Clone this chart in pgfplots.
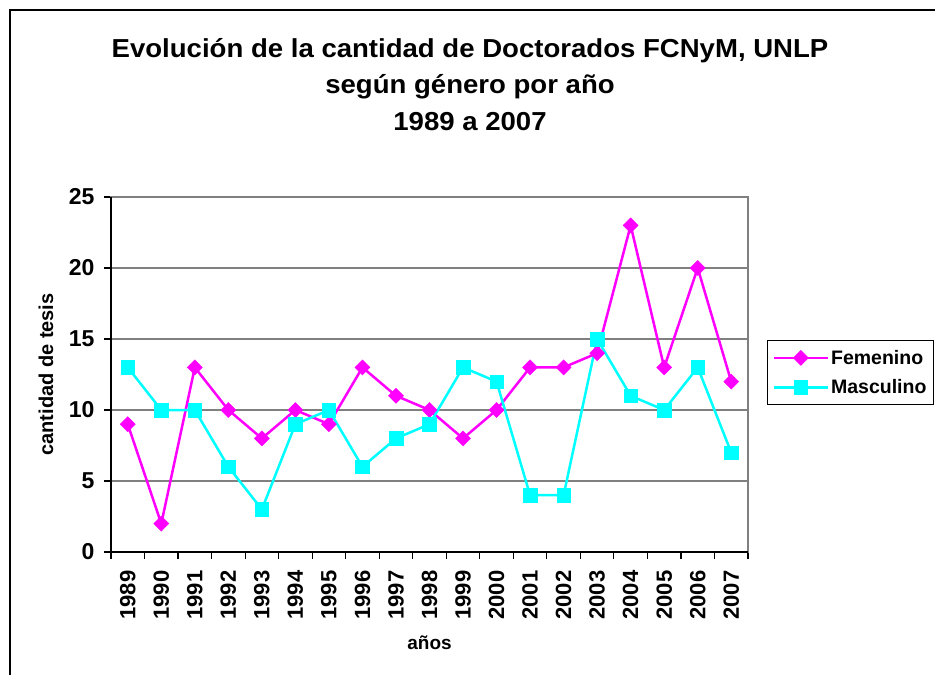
\documentclass[border=0pt]{standalone}
\usepackage{pgfplots}
\pgfplotsset{compat=1.18}
\usepackage{fontspec}
\setmainfont{Liberation Sans}
\definecolor{fem}{RGB}{255,0,255}
\definecolor{mas}{RGB}{0,255,255}
\definecolor{gridgray}{RGB}{128,128,128}
\begin{document}
\begin{tikzpicture}[x=1pt,y=1pt]
\useasboundingbox (0,0) rectangle (935,-675);
\draw[line width=2pt] (10,-675) -- (10,-10);
\draw[line width=2pt] (9,-10) -- (935,-10);
\begin{axis}[
  at={(111pt,-552pt)}, anchor=south west,
  scale only axis, width=637pt, height=355pt,
  xmin=-0.5, xmax=18.5, ymin=0, ymax=25,
  xtick={0,...,18},
  xticklabels={1989,1990,1991,1992,1993,1994,1995,1996,1997,1998,1999,2000,2001,2002,2003,2004,2005,2006,2007},
  minor xtick={-0.5,0.5,...,18.5},
  every major x tick/.append style={draw=none},
  ytick={0,5,...,25},
  tick align=outside, tick pos=lower,
  major tick length=7pt, minor tick length=7pt,
  tick style={black, line width=1.2pt},
  ymajorgrids, major grid style={gridgray, line width=1.5pt},
  axis line style={gridgray, line width=2pt},
  /pgf/number format/assume math mode=true,
  xticklabel style={yshift=-8pt, rotate=90, anchor=east, font=\fontsize{22}{24}\selectfont\bfseries},
  yticklabel style={font=\fontsize{23}{25}\selectfont\bfseries, xshift=-6pt},
  xlabel={años}, ylabel={cantidad de tesis},
  xlabel style={at={(axis description cs:0.5,-0.256)}, anchor=center, font=\fontsize{19}{21}\selectfont\bfseries},
  ylabel style={at={(axis description cs:-0.102,0.5)}, anchor=center, font=\fontsize{20}{22}\selectfont\bfseries},
  title={\scalebox{1.06}[1]{Evolución de la cantidad de Doctorados FCNyM, UNLP}\\\scalebox{1.06}[1]{según género por año}\\\scalebox{1.06}[1]{1989 a 2007}},
  title style={at={(axis description cs:0.5636,1.301)}, anchor=center, align=center, font=\fontsize{26}{36.5}\selectfont\bfseries},
  legend style={at={(axis description cs:1.03,0.597)}, anchor=north west, draw=black, line width=1pt, font=\fontsize{19.5}{22}\selectfont\bfseries, inner xsep=5pt, inner ysep=7.5pt, row sep=10pt, legend cell align=left},
  legend image code/.code={\draw[#1, mark repeat=2, mark phase=2] plot coordinates {(0pt,0pt) (27pt,0pt) (54pt,0pt)};},
  clip=false,
]
\addplot[fem, line width=2.5pt, mark=diamond*, mark size=7.5pt, mark options={solid, fill=fem, draw=fem, line width=0.5pt, xscale=1.33}]
 coordinates {(0,9) (1,2) (2,13) (3,10) (4,8) (5,10) (6,9) (7,13) (8,11) (9,10) (10,8) (11,10) (12,13) (13,13) (14,14) (15,23) (16,13) (17,20) (18,12)};
\addlegendentry{Femenino}
\addplot[mas, line width=2.5pt, mark=square*, mark size=6.8pt, mark options={solid, fill=mas, draw=mas, line width=0.5pt}]
 coordinates {(0,13) (1,10) (2,10) (3,6) (4,3) (5,9) (6,10) (7,6) (8,8) (9,9) (10,13) (11,12) (12,4) (13,4) (14,15) (15,11) (16,10) (17,13) (18,7)};
\addlegendentry{Masculino}
\draw[black, line width=2pt] (rel axis cs:0,1) -- (rel axis cs:0,0) -- (rel axis cs:1,0);
\end{axis}
\end{tikzpicture}
\end{document}
